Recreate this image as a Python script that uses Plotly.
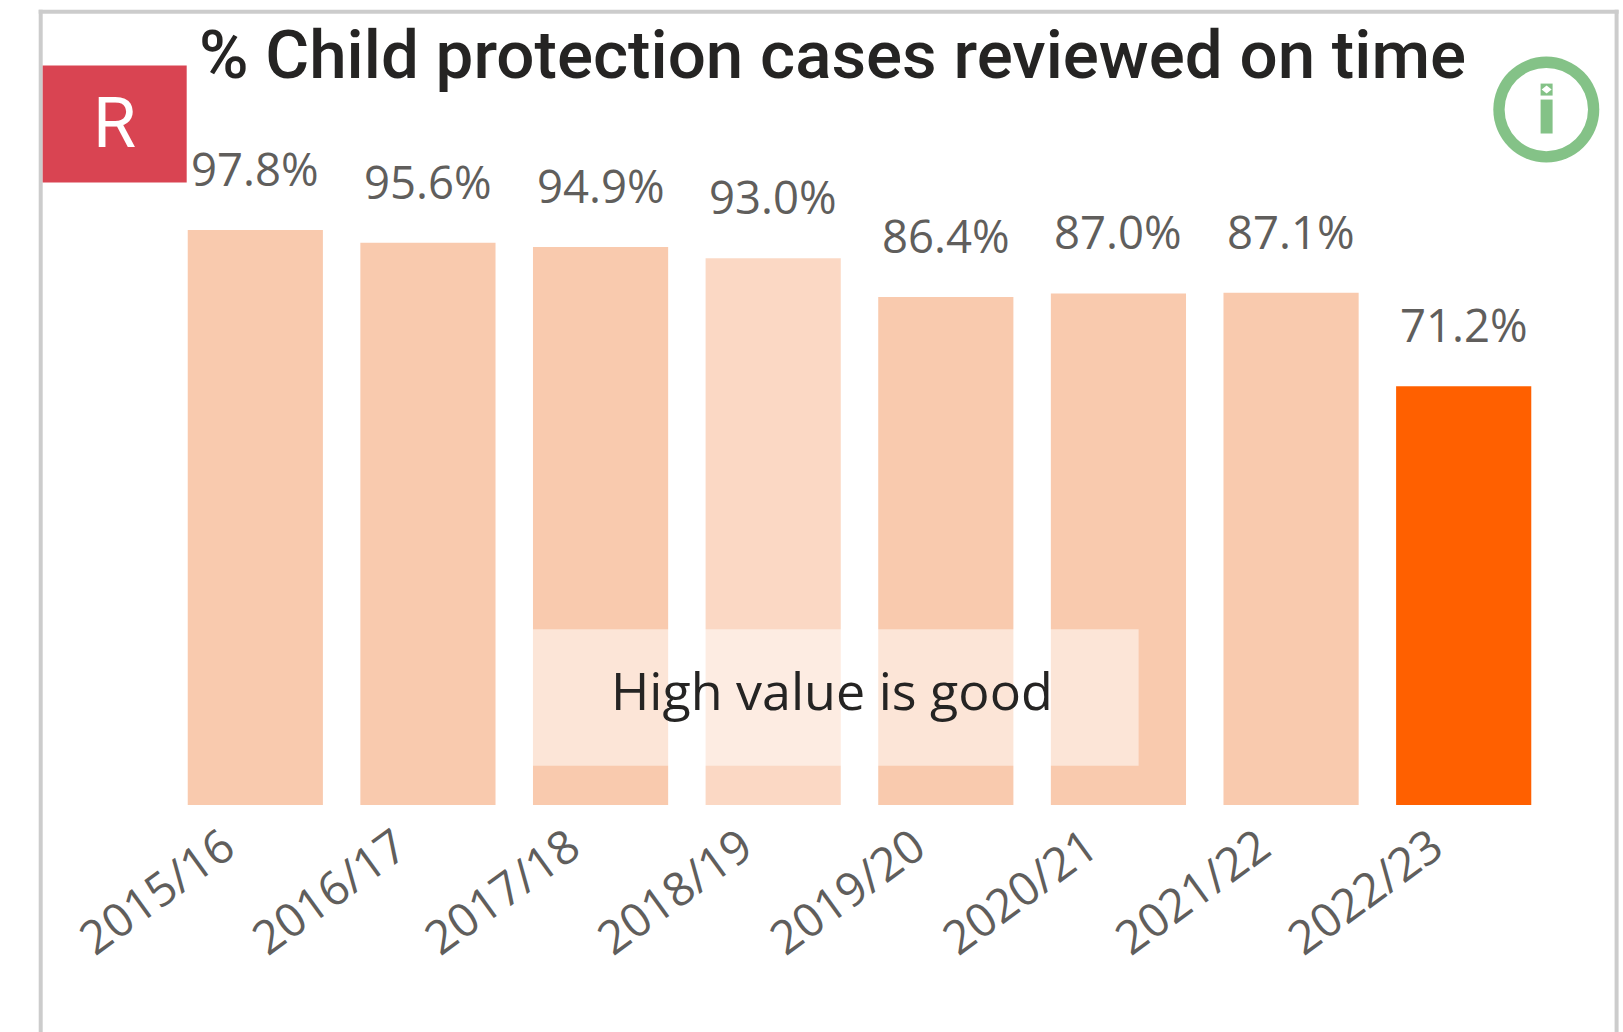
import plotly.graph_objects as go

W, H = 1623, 1032
categories = ["2015/16", "2016/17", "2017/18", "2018/19", "2019/20", "2020/21", "2021/22", "2022/23"]
values = [97.8, 95.6, 94.9, 93.0, 86.4, 87.0, 87.1, 71.2]
value_labels = ["97.8%", "95.6%", "94.9%", "93.0%", "86.4%", "87.0%", "87.1%", "71.2%"]
bar_colors = ["#F9CAAE", "#F9CAAE", "#F9CAAE", "#FBD8C4", "#F9CAAE", "#F9CAAE", "#F9CAAE", "#FF6000"]
title_text = "% Child protection cases reviewed on time"
rating_text = "R"
note_text = "High value is good"

LABEL_FONT = "Open Sans"
TITLE_FONT = "Roboto"
L, R, B, T = 169.3, 72.6, 226.6, 216.6

# Layout margins are the plot area; paper coords below are relative to it
pw, ph = W - L - R, H - T - B


def ax(x):
    return (x - L) / pw


def ay(y):
    return 1 - (y - T) / ph


def box(x0, y0, x1, y1, color, opacity=1, kind="rect"):
    return dict(type=kind, xref="paper", yref="paper", x0=ax(x0), x1=ax(x1), y0=ay(y0), y1=ay(y1),
                fillcolor=color, line_width=0, opacity=opacity, layer="above")


shapes = [
    box(39, 9, 43, H + 5, "#CCCCCC"),
    box(39, 9, 1619, 13, "#CCCCCC"),
    box(1615, 9, 1619, H + 5, "#CCCCCC"),
    box(43, 65, 187, 182, "#D94452"),
    box(533, 629.5, 1139, 766, "#FFFFFF", 0.5),
    box(1493.7, 56, 1599.7, 162, "#84C287", kind="circle"),
    box(1505, 67.3, 1588.4, 150.7, "#FFFFFF", kind="circle"),
    box(1541, 83, 1553, 95, "#84C287"),
    box(1541, 99, 1553, 133, "#84C287"),
    dict(type="path", xref="paper", yref="paper",
         path=f"M {ax(1547)} {ay(85)} L {ax(1552)} {ay(89)} L {ax(1547)} {ay(93)} L {ax(1542)} {ay(89)} Z",
         fillcolor="#FFFFFF", line_width=0, layer="above"),
]

annotations = [
    dict(x=c, y=v, xref="x", yref="y", text=t, showarrow=False, yanchor="middle", yshift=62,
         font=dict(family=LABEL_FONT, size=45.5, color="#605E5C"))
    for c, v, t in zip(categories, values, value_labels)
]
annotations += [
    dict(x=ax(833), y=ay(54), xref="paper", yref="paper", text=title_text, showarrow=False,
         xanchor="center", yanchor="middle",
         font=dict(family=TITLE_FONT, size=67.3, color="#252423", weight=500)),
    dict(x=ax(115), y=ay(122), xref="paper", yref="paper", text=rating_text, showarrow=False,
         xanchor="center", yanchor="middle", font=dict(family=TITLE_FONT, size=70, color="#FFFFFF")),
    dict(x=ax(832), y=ay(690), xref="paper", yref="paper", text=note_text, showarrow=False,
         xanchor="center", yanchor="middle", font=dict(family=LABEL_FONT, size=52, color="#252423")),
]

fig = go.Figure(go.Bar(x=categories, y=values, marker=dict(color=bar_colors, line_width=0), cliponaxis=False))
fig.update_layout(
    width=W, height=H, autosize=False,
    margin=dict(l=L, r=R, t=T, b=B, pad=0),
    paper_bgcolor="#FFFFFF", plot_bgcolor="#FFFFFF",
    bargap=0.217, showlegend=False, shapes=shapes, annotations=annotations,
)
fig.update_xaxes(type="category", tickangle=-36, showgrid=False, showline=False, ticks="",
                 ticklabelshift=-31, ticklabelstandoff=5,
                 tickfont=dict(family=LABEL_FONT, size=46.5, color="#605E5C"), automargin=False)
fig.update_yaxes(range=[0, 100], visible=False, automargin=False)
fig.write_html("out.html", config=dict(displayModeBar=False),
               post_script="document.documentElement.style.overflow='hidden';document.body.style.margin='0';")
